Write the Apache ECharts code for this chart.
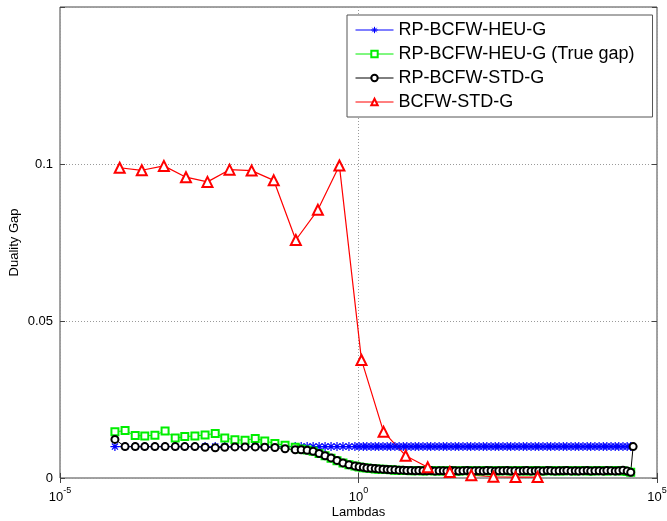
<!DOCTYPE html>
<html>
<head>
<meta charset="utf-8">
<script src="https://cdn.jsdelivr.net/npm/echarts@6/dist/echarts.min.js"></script>
<style>
  html, body { margin: 0; padding: 0; background: #fff; }
  #chart { width: 667px; height: 521px; }
</style>
</head>
<body>
<div id="chart"></div>
<script>
// log10(lambda) of the regularization-path points (shared by the RP-BCFW runs)
const rpLogLambda = [
  -4.08, -3.91, -3.74, -3.58, -3.41, -3.24, -3.07, -2.91, -2.74, -2.57,
  -2.40, -2.24, -2.07, -1.90, -1.73, -1.57, -1.40, -1.23, -1.06,
  -0.96, -0.86, -0.76, -0.66, -0.56, -0.46, -0.36, -0.26, -0.16, -0.06,
  0.01, 0.08, 0.14, 0.21, 0.28, 0.34, 0.41, 0.48, 0.54, 0.61,
  0.68, 0.75, 0.81, 0.88, 0.95, 1.01, 1.08, 1.15, 1.21, 1.28,
  1.35, 1.42, 1.48, 1.55, 1.62, 1.68, 1.75, 1.82, 1.88, 1.95,
  2.02, 2.09, 2.15, 2.22, 2.29, 2.35, 2.42, 2.49, 2.55, 2.62,
  2.69, 2.76, 2.82, 2.89, 2.96, 3.02, 3.09, 3.16, 3.22, 3.29,
  3.36, 3.43, 3.49, 3.56, 3.63, 3.69, 3.76, 3.83, 3.89, 3.96,
  4.03, 4.10, 4.16, 4.23, 4.30, 4.36, 4.43, 4.50, 4.56
];

// RP-BCFW-HEU-G duality gap
const heuGap = [
  0.0100, 0.0100, 0.0100, 0.0100, 0.0100, 0.0100, 0.0100, 0.0100, 0.0100, 0.0100,
  0.0100, 0.0100, 0.0100, 0.0100, 0.0100, 0.0100, 0.0100, 0.0100, 0.0100,
  0.0100, 0.0100, 0.0100, 0.0100, 0.0100, 0.0100, 0.0100, 0.0100, 0.0100, 0.0100,
  0.0100, 0.0100, 0.0100, 0.0100, 0.0100, 0.0100, 0.0100, 0.0100, 0.0100, 0.0100,
  0.0100, 0.0100, 0.0100, 0.0100, 0.0100, 0.0100, 0.0100, 0.0100, 0.0100, 0.0100,
  0.0100, 0.0100, 0.0100, 0.0100, 0.0100, 0.0100, 0.0100, 0.0100, 0.0100, 0.0100,
  0.0100, 0.0100, 0.0100, 0.0100, 0.0100, 0.0100, 0.0100, 0.0100, 0.0100, 0.0100,
  0.0100, 0.0100, 0.0100, 0.0100, 0.0100, 0.0100, 0.0100, 0.0100, 0.0100, 0.0100,
  0.0100, 0.0100, 0.0100, 0.0100, 0.0100, 0.0100, 0.0100, 0.0100, 0.0100, 0.0100,
  0.0100, 0.0100, 0.0100, 0.0100, 0.0100, 0.0100, 0.0100, 0.0100, 0.0100
];

// RP-BCFW-HEU-G true duality gap
const heuTrueGap = [
  0.0147, 0.0151, 0.0135, 0.0134, 0.0136, 0.0150, 0.0127, 0.0132, 0.0134, 0.0137,
  0.0142, 0.0127, 0.0122, 0.0120, 0.0126, 0.0118, 0.0110, 0.0104, 0.0098,
  0.0092, 0.0089, 0.0085, 0.0078, 0.0071, 0.0063, 0.0055, 0.0048, 0.0042, 0.0038,
  0.0035, 0.0033, 0.0032, 0.0030, 0.0029, 0.0028, 0.0028, 0.0027, 0.0026, 0.0025,
  0.0025, 0.0024, 0.0024, 0.0023, 0.0023, 0.0024, 0.0022, 0.0023, 0.0024, 0.0022,
  0.0023, 0.0022, 0.0023, 0.0024, 0.0022, 0.0022, 0.0023, 0.0024, 0.0022, 0.0023,
  0.0022, 0.0023, 0.0024, 0.0022, 0.0023, 0.0022, 0.0024, 0.0023, 0.0022, 0.0023,
  0.0024, 0.0022, 0.0023, 0.0022, 0.0024, 0.0023, 0.0022, 0.0023, 0.0024, 0.0022,
  0.0023, 0.0022, 0.0024, 0.0023, 0.0022, 0.0023, 0.0024, 0.0022, 0.0023, 0.0022,
  0.0024, 0.0023, 0.0022, 0.0023, 0.0024, 0.0022, 0.0023, 0.0021, 0.0018
];

// RP-BCFW-STD-G duality gap (its path ends with one extra point)
const stdGap = [
  0.0123, 0.0100, 0.0100, 0.0100, 0.0100, 0.0100, 0.0100, 0.0100, 0.0100, 0.0098,
  0.0096, 0.0098, 0.0099, 0.0099, 0.0099, 0.0098, 0.0097, 0.0093, 0.0090,
  0.0090, 0.0088, 0.0085, 0.0078, 0.0071, 0.0064, 0.0056, 0.0048, 0.0042, 0.0038,
  0.0036, 0.0034, 0.0032, 0.0031, 0.0030, 0.0029, 0.0028, 0.0027, 0.0026, 0.0026,
  0.0025, 0.0025, 0.0024, 0.0024, 0.0023, 0.0024, 0.0023, 0.0023, 0.0024, 0.0022,
  0.0023, 0.0023, 0.0022, 0.0024, 0.0023, 0.0022, 0.0023, 0.0024, 0.0022, 0.0023,
  0.0023, 0.0022, 0.0024, 0.0023, 0.0022, 0.0023, 0.0023, 0.0024, 0.0022, 0.0023,
  0.0022, 0.0023, 0.0024, 0.0022, 0.0023, 0.0023, 0.0022, 0.0024, 0.0023, 0.0022,
  0.0023, 0.0023, 0.0024, 0.0022, 0.0023, 0.0022, 0.0023, 0.0024, 0.0022, 0.0023,
  0.0023, 0.0022, 0.0024, 0.0023, 0.0022, 0.0023, 0.0025, 0.0022, 0.0018
];
const stdTailLogLambda = [4.60];
const stdTailGap = [0.0100];

// BCFW-STD-G: 20 lambdas, log-spaced from 1e-4 to 1e3
const bcfwLogLambda = [
  -4.00, -3.63, -3.26, -2.89, -2.53, -2.16, -1.79, -1.42, -1.05, -0.68,
  -0.32, 0.05, 0.42, 0.79, 1.16, 1.53, 1.89, 2.26, 2.63, 3.00
];
const bcfwGap = [
  0.0988, 0.0980, 0.0994, 0.0958, 0.0943, 0.0982, 0.0979, 0.0948, 0.0758, 0.0854,
  0.0995, 0.0376, 0.0147, 0.0071, 0.0034, 0.0019, 0.0009, 0.0004, 0.0003, 0.0003
];

const xTickExponents = [-5, 0, 5];
const yTickLabels = ['0', '0.05', '0.1'];

function pairs(logs, vals) {
  const n = Math.min(logs.length, vals.length);
  const out = [];
  for (let i = 0; i < n; i++) out.push([Math.pow(10, logs[i]), vals[i]]);
  return out;
}

const FONT = '"Liberation Sans", Arial, Helvetica, sans-serif';
const asterisk = 'path://M5,0V10M0,5H10M1.6,1.6L8.4,8.4M8.4,1.6L1.6,8.4';

const chart = echarts.init(document.getElementById('chart'), null, { renderer: 'canvas' });

const gridLine = { show: true, lineStyle: { color: '#9a9a9a', type: [1, 2], width: 1 } };
const tickStyle = { show: true, inside: true, length: 5, lineStyle: { color: '#444', width: 1 } };

chart.setOption({
  animation: false,
  backgroundColor: '#fff',
  textStyle: { fontFamily: FONT },
  grid: {
    left: 60, right: 10, top: 7, bottom: 43,
    containLabel: false, outerBoundsMode: 'none',
    show: true, borderColor: '#444', borderWidth: 1, backgroundColor: 'transparent'
  },
  legend: {
    orient: 'vertical',
    left: 347, top: 15,
    padding: [6, 18, 6, 8],
    itemWidth: 38, itemHeight: 8, itemGap: 6,
    backgroundColor: '#fff',
    borderColor: '#555', borderWidth: 1, borderRadius: 0,
    lineStyle: { width: 1 },
    itemStyle: { borderWidth: 1 },
    textStyle: { fontSize: 18, color: '#000', fontFamily: FONT },
    data: ['RP-BCFW-HEU-G', 'RP-BCFW-HEU-G (True gap)', 'RP-BCFW-STD-G', 'BCFW-STD-G']
  },
  xAxis: [{
    type: 'log', logBase: 10, min: 1e-5, max: 1e5, interval: 5,
    axisLine: { show: false },
    axisTick: tickStyle,
    splitLine: gridLine,
    axisLabel: {
      margin: 8,
      color: '#000',
      formatter: function (v) {
        const e = Math.round(Math.log10(v));
        if (xTickExponents.indexOf(e) < 0) return '';
        return '{b|10}{s|' + e + '}';
      },
      rich: {
        b: { fontSize: 13, fontFamily: FONT, color: '#000', lineHeight: 18, verticalAlign: 'bottom' },
        s: { fontSize: 9, fontFamily: FONT, color: '#000', lineHeight: 18, verticalAlign: 'top' }
      }
    },
    name: 'Lambdas', nameLocation: 'middle', nameGap: 28, nameMoveOverlap: false,
    nameTextStyle: { fontSize: 13, color: '#000', fontFamily: FONT }
  }, {
    type: 'log', logBase: 10, min: 1e-5, max: 1e5, interval: 5, position: 'top',
    axisLine: { show: false }, axisTick: tickStyle, axisLabel: { show: false }, splitLine: { show: false }
  }],
  yAxis: [{
    type: 'value', min: 0, max: 0.15, interval: 0.05,
    axisLine: { show: false },
    axisTick: tickStyle,
    splitLine: gridLine,
    axisLabel: {
      margin: 7, color: '#000', fontSize: 13, fontFamily: FONT,
      formatter: function (v) {
        const i = Math.round(v / 0.05);
        return i < yTickLabels.length ? yTickLabels[i] : '';
      }
    },
    name: 'Duality Gap', nameLocation: 'middle', nameGap: 39, nameMoveOverlap: false,
    nameTextStyle: { fontSize: 13, color: '#000', fontFamily: FONT }
  }, {
    type: 'value', min: 0, max: 0.15, interval: 0.05, position: 'right',
    axisLine: { show: false }, axisTick: tickStyle, axisLabel: { show: false }, splitLine: { show: false }
  }],
  series: [{
    name: 'RP-BCFW-HEU-G', type: 'line',
    data: pairs(rpLogLambda, heuGap),
    symbol: asterisk, symbolSize: 9,
    itemStyle: { color: '#0000ff', borderColor: '#0000ff', borderWidth: 1.2 },
    lineStyle: { color: '#0000ff', width: 1 }
  }, {
    name: 'RP-BCFW-HEU-G (True gap)', type: 'line',
    data: pairs(rpLogLambda, heuTrueGap),
    symbol: 'emptyRect', symbolSize: 7,
    itemStyle: { color: '#00ee00', borderColor: '#00ee00', borderWidth: 1 },
    lineStyle: { color: '#00ee00', width: 1 }
  }, {
    name: 'RP-BCFW-STD-G', type: 'line',
    data: pairs(rpLogLambda.concat(stdTailLogLambda), stdGap.concat(stdTailGap)),
    symbol: 'emptyCircle', symbolSize: 7,
    itemStyle: { color: '#000', borderColor: '#000', borderWidth: 1 },
    lineStyle: { color: '#000', width: 1 }
  }, {
    name: 'BCFW-STD-G', type: 'line',
    data: pairs(bcfwLogLambda, bcfwGap),
    symbol: 'emptyTriangle', symbolSize: 10,
    itemStyle: { color: '#ff0000', borderColor: '#ff0000', borderWidth: 1.2 },
    lineStyle: { color: '#ff0000', width: 1.2 }
  }]
});
</script>
</body>
</html>
